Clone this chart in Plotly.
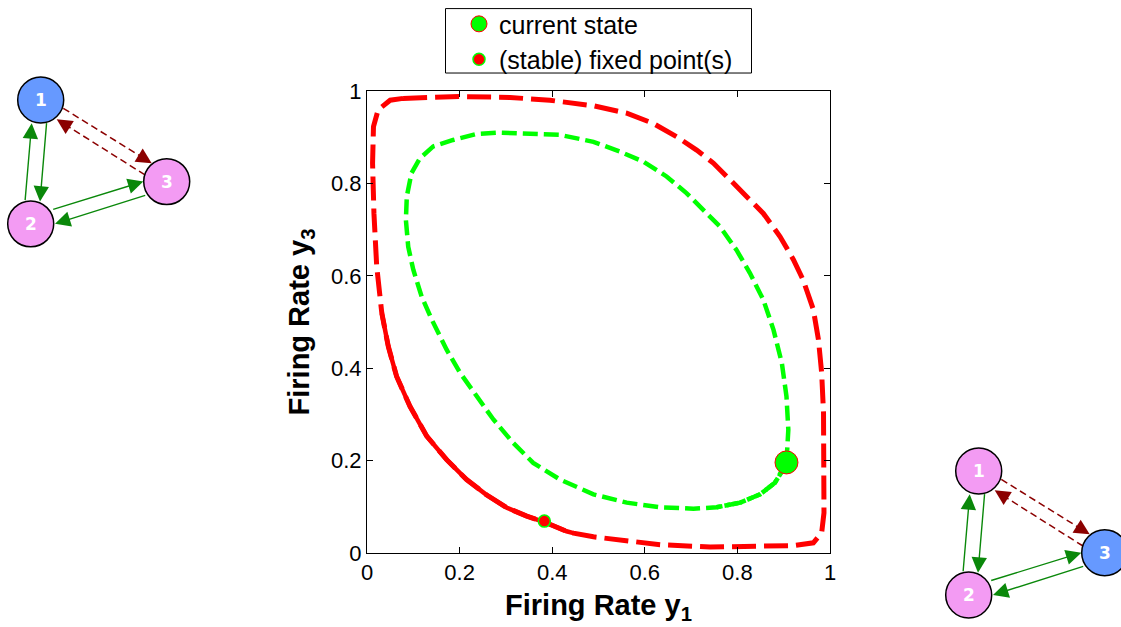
import math
import plotly.graph_objects as go

# ---------------- data ----------------
red_x = [0.078, 0.201, 0.309, 0.395, 0.489, 0.561, 0.618, 0.669, 0.712, 0.748,
         0.784, 0.820, 0.856, 0.892, 0.921, 0.942, 0.964, 0.975, 0.982, 0.986,
         0.987, 0.987, 0.982, 0.964, 0.921, 0.849, 0.741, 0.633, 0.561, 0.489,
         0.446, 0.431, 0.388, 0.345, 0.302, 0.258, 0.215, 0.172, 0.129, 0.093,
         0.064, 0.046, 0.032, 0.021, 0.015, 0.012, 0.014, 0.024, 0.050, 0.078]
red_y = [0.984, 0.988, 0.986, 0.980, 0.968, 0.952, 0.930, 0.901, 0.872, 0.844,
         0.808, 0.772, 0.735, 0.685, 0.635, 0.591, 0.527, 0.462, 0.390, 0.303,
         0.195, 0.087, 0.044, 0.022, 0.016, 0.015, 0.013, 0.018, 0.026, 0.035,
         0.043, 0.047, 0.065, 0.080, 0.098, 0.126, 0.159, 0.202, 0.253, 0.317,
         0.382, 0.447, 0.519, 0.620, 0.735, 0.844, 0.923, 0.959, 0.980, 0.984]

green_x = [0.906, 0.910, 0.906, 0.896, 0.878, 0.856, 0.827, 0.798, 0.762, 0.726,
           0.690, 0.647, 0.597, 0.546, 0.489, 0.417, 0.345, 0.287, 0.237, 0.186,
           0.143, 0.114, 0.096, 0.086, 0.084, 0.089, 0.100, 0.118, 0.140, 0.172,
           0.201, 0.237, 0.273, 0.316, 0.359, 0.417, 0.489, 0.561, 0.633, 0.705,
           0.755, 0.806, 0.849, 0.881, 0.899, 0.906]
green_y = [0.196, 0.267, 0.339, 0.411, 0.483, 0.548, 0.606, 0.656, 0.707, 0.743,
           0.779, 0.815, 0.847, 0.869, 0.890, 0.905, 0.908, 0.910, 0.907, 0.894,
           0.880, 0.854, 0.822, 0.772, 0.721, 0.663, 0.613, 0.555, 0.505, 0.440,
           0.390, 0.339, 0.289, 0.238, 0.195, 0.159, 0.127, 0.109, 0.099, 0.096,
           0.099, 0.109, 0.127, 0.152, 0.181, 0.196]

current_state_x = [0.906]
current_state_y = [0.196]
fixed_point_x = [0.383]
fixed_point_y = [0.069]

legend_names = ["current state", "(stable) fixed point(s)"]
tick_vals = [0, 0.2, 0.4, 0.6, 0.8, 1]
tick_text = ["0", "0.2", "0.4", "0.6", "0.8", "1"]
x_title = "<b>Firing Rate y<sub>1</sub></b>"
y_title = "<b>Firing Rate y<sub>3</sub></b>"
node_labels = ["1", "2", "3"]

# ---------------- style / layout ----------------
W, H = 1121, 627
PL, PR, PT, PB = 367, 830, 91, 553.5   # plot area in pixels
FONT = "Liberation Sans, Arial, Helvetica, sans-serif"
RED, LIME = "#FF0000", "#00FF00"
BLUE, PINK = "#6699FF", "#F39BF3"
ARROW_GREEN, ARROW_RED = "#0A880A", "#8B0000"


def px2x(px):
    return (px - PL) / (PR - PL)


def py2y(py):
    return (PB - py) / (PB - PT)


fig = go.Figure()

# red trajectory (dashed) with solid-looking slow segment
fig.add_trace(go.Scatter(x=red_x, y=red_y, mode="lines", showlegend=False,
                         line=dict(color=RED, width=5, dash="24px,8px"),
                         hoverinfo="skip"))
i0, i1 = 30, 43
fig.add_trace(go.Scatter(x=red_x[i0:i1], y=red_y[i0:i1], mode="lines",
                         showlegend=False, line=dict(color=RED, width=4.5),
                         hoverinfo="skip"))

# green trajectory
fig.add_trace(go.Scatter(x=green_x, y=green_y, mode="lines", showlegend=False,
                         line=dict(color=LIME, width=4.5, dash="15px,6px"),
                         hoverinfo="skip"))
fig.add_trace(go.Scatter(x=green_x[-6:], y=green_y[-6:], mode="lines",
                         showlegend=False,
                         line=dict(color=LIME, width=4.5, dash="6px,2px"),
                         hoverinfo="skip"))

# markers
fig.add_trace(go.Scatter(x=current_state_x, y=current_state_y, mode="markers",
                         name=legend_names[0],
                         marker=dict(size=23, color=LIME,
                                     line=dict(color=RED, width=1))))
fig.add_trace(go.Scatter(x=fixed_point_x, y=fixed_point_y, mode="markers",
                         name=legend_names[1],
                         marker=dict(size=12, color=RED,
                                     line=dict(color=LIME, width=1.5))))

# ---------------- network diagrams ----------------
shapes = []
annotations = []

# legend frame (drawn as a shape so its height matches the reference)
shapes.append(dict(type="rect", xref="paper", yref="paper",
                   x0=px2x(445.5), x1=px2x(751.5), y0=py2y(73), y1=py2y(8.5),
                   fillcolor="white", line=dict(color="black", width=1),
                   layer="above"))

base_nodes = [(40.7, 100.0), (30.7, 224.0), (166.7, 181.7)]
R = 23
green_arrows = [((25.0, 201.7), (31.7, 123.3)),
                ((46.7, 121.7), (40.0, 201.7)),
                ((51.7, 210.0), (143.3, 181.7)),
                ((146.7, 195.0), (55.0, 224.0))]
red_arrows = [((63.3, 108.3), (151.7, 163.3)),
              ((145.0, 175.0), (56.7, 119.3))]


def add_network(dx, dy, colors):
    for (tail, head) in green_arrows:
        tx, ty = tail[0] + dx, tail[1] + dy
        hx, hy = head[0] + dx, head[1] + dy
        annotations.append(dict(x=px2x(hx), y=py2y(hy), xref="paper", yref="paper",
                                ax=tx - hx, ay=ty - hy, axref="pixel", ayref="pixel",
                                text="", showarrow=True, arrowhead=2, arrowsize=2.2,
                                arrowwidth=1.4, arrowcolor=ARROW_GREEN, standoff=0))
    for (tail, head) in red_arrows:
        tx, ty = tail[0] + dx, tail[1] + dy
        hx, hy = head[0] + dx, head[1] + dy
        L = math.hypot(tx - hx, ty - hy)
        ux, uy = (tx - hx) / L, (ty - hy) / L
        shapes.append(dict(type="line", xref="paper", yref="paper",
                           x0=px2x(tx), y0=py2y(ty),
                           x1=px2x(hx + ux * 10), y1=py2y(hy + uy * 10),
                           line=dict(color=ARROW_RED, width=1.5, dash="7px,4px")))
        annotations.append(dict(x=px2x(hx), y=py2y(hy), xref="paper", yref="paper",
                                ax=ux * 14, ay=uy * 14, axref="pixel", ayref="pixel",
                                text="", showarrow=True, arrowhead=2, arrowsize=2.2,
                                arrowwidth=1.4, arrowcolor=ARROW_RED, standoff=0))
    for (cx, cy), col, lab in zip(base_nodes, colors, node_labels):
        cx, cy = cx + dx, cy + dy
        shapes.append(dict(type="circle", xref="paper", yref="paper",
                           x0=px2x(cx - R), x1=px2x(cx + R),
                           y0=py2y(cy + R), y1=py2y(cy - R),
                           fillcolor=col, line=dict(color="black", width=1.5),
                           layer="above"))
        annotations.append(dict(x=px2x(cx), y=py2y(cy), xref="paper", yref="paper",
                                xanchor="center", yanchor="middle",
                                text="<b>%s</b>" % lab, showarrow=False,
                                font=dict(family="DejaVu Sans", size=17, color="white")))


add_network(0, 0, [BLUE, PINK, PINK])
add_network(938, 371.5, [PINK, PINK, BLUE])

axis_common = dict(range=[0, 1], tickvals=tick_vals, ticktext=tick_text,
                   showline=True, linecolor="black", linewidth=1, mirror="ticks",
                   ticks="inside", ticklen=6, tickcolor="black", showgrid=False,
                   zeroline=False,
                   tickfont=dict(family=FONT, size=22, color="black"))

fig.update_layout(
    width=W, height=H, autosize=False,
    margin=dict(l=PL, r=W - PR, t=PT, b=H - PB, pad=0, autoexpand=False),
    paper_bgcolor="white", plot_bgcolor="white",
    font=dict(family=FONT, color="black"),
    xaxis=dict(**axis_common,
               title=dict(text=x_title, font=dict(family=FONT, size=29), standoff=10)),
    yaxis=dict(**axis_common,
               title=dict(text=y_title, font=dict(family=FONT, size=29), standoff=12)),
    legend=dict(x=px2x(445), y=py2y(1), xanchor="left", yanchor="top",
                bgcolor="rgba(0,0,0,0)", borderwidth=0,
                font=dict(family=FONT, size=25, color="black"),
                itemsizing="trace", indentation=14, tracegroupgap=0),
    shapes=shapes, annotations=annotations,
)

fig.write_html("out.html",
               config={"displayModeBar": False},
               post_script="document.body.style.margin='0';"
                           "document.body.style.overflow='hidden';")
